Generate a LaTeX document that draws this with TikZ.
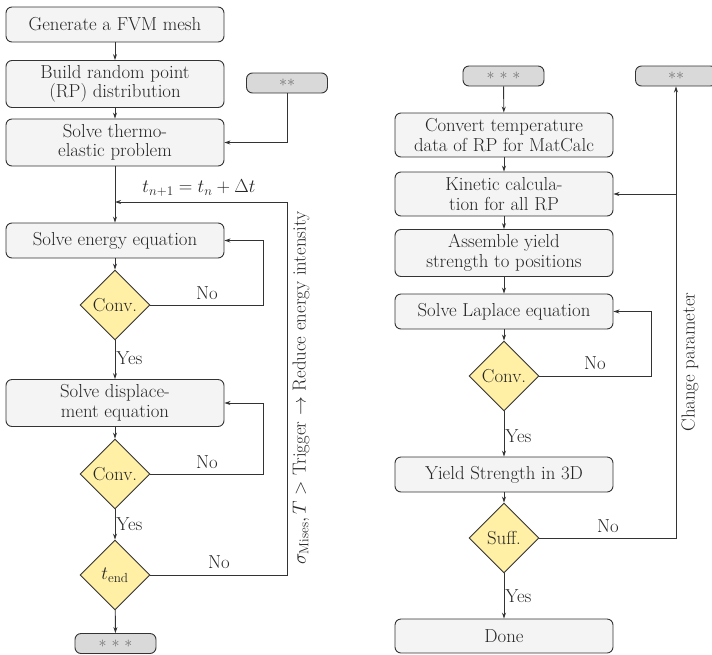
\RequirePackage{fix-cm}
\documentclass[tikz,border=0pt]{standalone}
\usetikzlibrary{shapes.geometric,arrows.meta}
\definecolor{boxfill}{HTML}{F4F4F4}
\definecolor{termfill}{HTML}{D9D9D9}
\definecolor{decfill}{HTML}{FFF0A6}
\definecolor{edge}{HTML}{333333}
\tikzset{
  every node/.style={font=\fontsize{18.8}{19.5}\selectfont, text=black!85},
  proc/.style={draw=edge, line width=0.9pt, fill=boxfill, rounded corners=6pt,
    minimum width=218pt, align=center, inner sep=2pt},
  proc1/.style={proc, minimum height=35pt},
  proc2/.style={proc, minimum height=47pt},
  term/.style={draw=edge, line width=0.9pt, fill=termfill, rounded corners=6pt,
    minimum width=81pt, minimum height=20pt, inner sep=0pt,
    font=\fontsize{16}{18}\selectfont, text=black!55},
  dec/.style={draw=edge, line width=0.9pt, fill=decfill, shape=diamond,
    minimum width=70pt, minimum height=70pt, inner sep=0pt, aspect=1},
  conn/.style={draw=edge, line width=0.9pt, -{Stealth[length=6pt,width=4pt]}},
  lbl/.style={inner sep=1pt}
}
\begin{document}
\begin{tikzpicture}[x=1pt,y=-1pt]
\useasboundingbox (0,0) rectangle (712,654);
% ---------- left column ----------
\node[proc1] (b1) at (115,24.5) {Generate a FVM mesh};
\node[proc2] (b2) at (115,84) {Build random point\\(RP) distribution};
\node[proc2] (b3) at (115,142.5) {Solve thermo-\\elastic problem};
\node[term] (s1) at (287,83) {$\ast\ast$};
\node[proc1] (b4) at (115,240.5) {Solve energy equation};
\node[dec] (d1) at (115,305) {Conv.};
\node[proc2] (b5) at (115,403) {Solve displace-\\ment equation};
\node[dec] (d2) at (115,474) {Conv.};
\node[dec] (d3) at (115,575) {$t_{\mathrm{end}}$};
\node[term] (e1) at (115.5,643.5) {$\ast$ $\ast$ $\ast$};
\coordinate (j1) at (115,202);
\coordinate (c2) at (263,305);
\coordinate (c3) at (263,240.5);
\coordinate (c4) at (263,474);
\coordinate (c5) at (263,403);
\coordinate (c6) at (287,575);
\coordinate (c7) at (287,202);

\draw[conn] (b1) -- (b2);
\draw[conn] (b2) -- (b3);
\draw[conn] (s1) |- (b3);
\draw[conn] (b3) -- (b4);
\draw[conn] (b4) -- (d1);
\draw[conn] (d1) -- node[lbl, right, pos=0.45] {Yes} (b5);
\draw[conn] (d1.east) -- (c2) -- (c3) -- (b4.east);
\draw[conn] (b5) -- (d2);
\draw[conn] (d2) -- node[lbl, right, pos=0.5] {Yes} (d3);
\draw[conn] (d2.east) -- (c4) -- (c5) -- (b5.east);
\draw[conn] (d3) -- (e1);
\draw[conn] (d3.east) -- (c6) -- (c7) -- (j1);
\node[lbl] at (207,293) {No};
\node[lbl] at (207,462) {No};
\node[lbl] at (219,562) {No};
\node[lbl] at (199,188) {$t_{n+1} = t_n + \Delta t$};
\node[lbl, rotate=90] at (301,388) {$\sigma_{\mathrm{Mises}}, T >$ Trigger $\rightarrow$ Reduce energy intensity};
% ---------- right column ----------
\node[term] (s2) at (503.5,76) {$\ast$ $\ast$ $\ast$};
\node[term] (s3) at (676,76) {$\ast\ast$};
\node[proc] (r1) at (504,135) [minimum height=44pt] {Convert temperature\\data of RP for MatCalc};
\node[proc] (r2) at (504,194) [minimum height=44pt] {Kinetic calcula-\\tion for all RP};
\node[proc2] (r3) at (504,253) {Assemble yield\\strength to positions};
\node[proc1] (r4) at (504,311.5) {Solve Laplace equation};
\node[dec] (d4) at (504,376) {Conv.};
\node[proc1] (r5) at (504,474.5) {Yield Strength in 3D};
\node[dec] (d5) at (504,538) {Suff.};
\node[proc] (r6) at (504,636) [minimum height=34pt] {Done};
\coordinate (k1) at (651,376);
\coordinate (k2) at (651,311.5);
\coordinate (k3) at (676,538);
\coordinate (k4) at (676,194);

\draw[conn] (s2) -- (r1);
\draw[conn] (r1) -- (r2);
\draw[conn] (r2) -- (r3);
\draw[conn] (r3) -- (r4);
\draw[conn] (r4) -- (d4);
\draw[conn] (d4) -- node[lbl, right, pos=0.55] {Yes} (r5);
\draw[conn] (d4.east) -- (k1) -- (k2) -- (r4.east);
\draw[conn] (r5) -- (d5);
\draw[conn] (d5) -- node[lbl, right, pos=0.5] {Yes} (r6);
\draw[conn] (d5.east) -- (k3) -- (s3.south);
\draw[conn] (k4) -- (r2.east);
\node[lbl] at (595,363) {No};
\node[lbl] at (608,526) {No};
\node[lbl, rotate=90] at (690,362) {Change parameter};
\end{tikzpicture}
\end{document}
